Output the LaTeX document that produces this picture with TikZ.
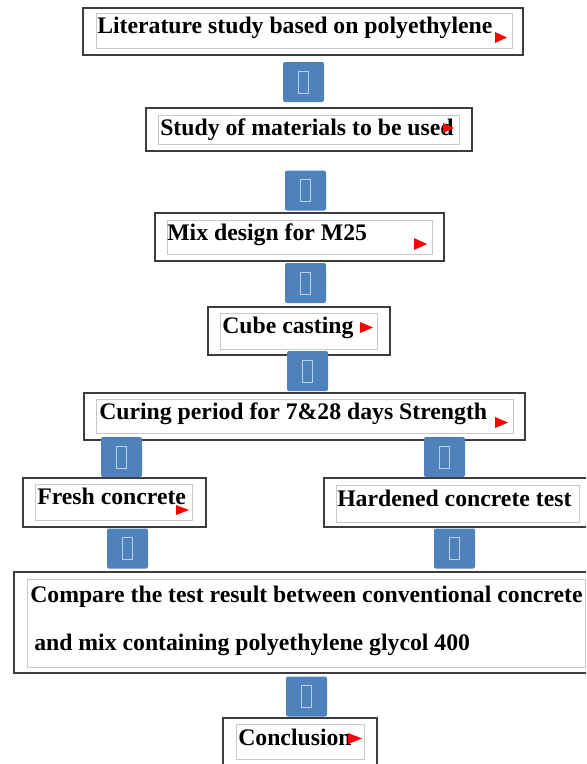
\documentclass[tikz,border=0pt]{standalone}
\usepackage{fontspec}
\setmainfont{Liberation Serif}
\usepackage{tikz}
\definecolor{boxblue}{RGB}{79,129,189}
\definecolor{tofublue}{RGB}{190,208,232}
\definecolor{outergray}{RGB}{60,60,60}
\definecolor{innergray}{RGB}{200,200,200}
\newcommand{\tofu}{{\color{tofublue}\setlength{\fboxsep}{0pt}\setlength{\fboxrule}{0.6pt}\fbox{\rule{0pt}{16pt}\hspace{7pt}}}}
\tikzset{
  outerbox/.style={draw=outergray, line width=1.1pt},
  innerbox/.style={draw=innergray, line width=0.6pt},
  steplabel/.style={anchor=base west, inner sep=0pt, font=\fontsize{17.8}{20}\selectfont\bfseries},
  flowarrow/.style={fill=boxblue, rounded corners=1.5pt, minimum width=30.75pt, minimum height=30pt, inner sep=0pt},
  pointer/.style={fill=red}
}

\begin{document}
\begin{tikzpicture}[x=0.75pt, y=-0.75pt]
    \useasboundingbox (0, 0) rectangle (586, 764);
    \clip (0, 0) rectangle (586, 764);
    \fill[white] (0, 0) rectangle (586, 764);
    \draw[outerbox] (83, 8) rectangle (523, 55);
    \draw[innerbox] (96, 13) rectangle (512, 48);
    \node[steplabel] (lit) at (97, 33) {Literature study based on polyethylene};
    \fill[pointer] (495, 32) -- (507, 37.5) -- (495, 43) -- cycle;
    \draw[outerbox] (146, 108) rectangle (472, 151);
    \draw[innerbox] (158, 115) rectangle (459, 144);
    \node[steplabel] (mat) at (160, 135) {Study of materials to be used};
    \fill[pointer] (443, 123) -- (454, 128) -- (443, 133) -- cycle;
    \draw[outerbox] (155, 213) rectangle (444, 261);
    \draw[innerbox] (167, 220) rectangle (432, 254);
    \node[steplabel] (mix) at (167, 240) {Mix design for M25};
    \fill[pointer] (414, 238) -- (427, 244) -- (414, 250) -- cycle;
    \draw[outerbox] (208, 307) rectangle (390, 355);
    \draw[innerbox] (220, 313) rectangle (377, 349);
    \node[steplabel] (cube) at (222, 333) {Cube casting};
    \fill[pointer] (360, 322) -- (373, 327.5) -- (360, 333) -- cycle;
    \draw[outerbox] (84, 393) rectangle (525, 440);
    \draw[innerbox] (96, 399) rectangle (513, 433);
    \node[steplabel] (cure) at (99, 419) {Curing period for 7\&28 days Strength};
    \fill[pointer] (495, 417) -- (508, 422.5) -- (495, 428) -- cycle;
    \draw[outerbox] (23, 478) rectangle (206, 527);
    \draw[innerbox] (35, 484) rectangle (192, 520);
    \node[steplabel] (fresh) at (37, 504) {Fresh concrete};
    \fill[pointer] (176, 505) -- (189, 510) -- (176, 515) -- cycle;
    \draw[outerbox] (324, 478) rectangle (596, 527);
    \draw[innerbox] (336, 485) rectangle (579, 522);
    \node[steplabel] (hard) at (337, 506) {Hardened concrete test};
    \draw[outerbox] (14, 572) rectangle (596, 673);
    \draw[innerbox] (27, 579) rectangle (585, 667);
    \node[steplabel] (comp) at (30, 602) {Compare the test result between conventional concrete};
    \node[steplabel] (mixpeg) at (34, 650) {and mix containing polyethylene glycol 400};
    \draw[outerbox] (223, 718) rectangle (377, 775);
    \draw[innerbox] (236, 724) rectangle (364, 759);
    \node[steplabel] (conc) at (238, 745) {Conclusion};
    \fill[pointer] (348, 733) -- (362, 738.5) -- (348, 744) -- cycle;
    \foreach \name/\x/\y in {b1/303.5/82, b2/305.5/190.5, b3/305.5/283, b4/307.5/371,
        b5a/121.5/457, b5b/444.5/457, b6a/127.5/548.5, b6b/454.5/548.5, b7/306.5/696.5}
      \node[flowarrow] (\name) at (\x, \y) {\tofu};
  \end{tikzpicture}
\end{document}
